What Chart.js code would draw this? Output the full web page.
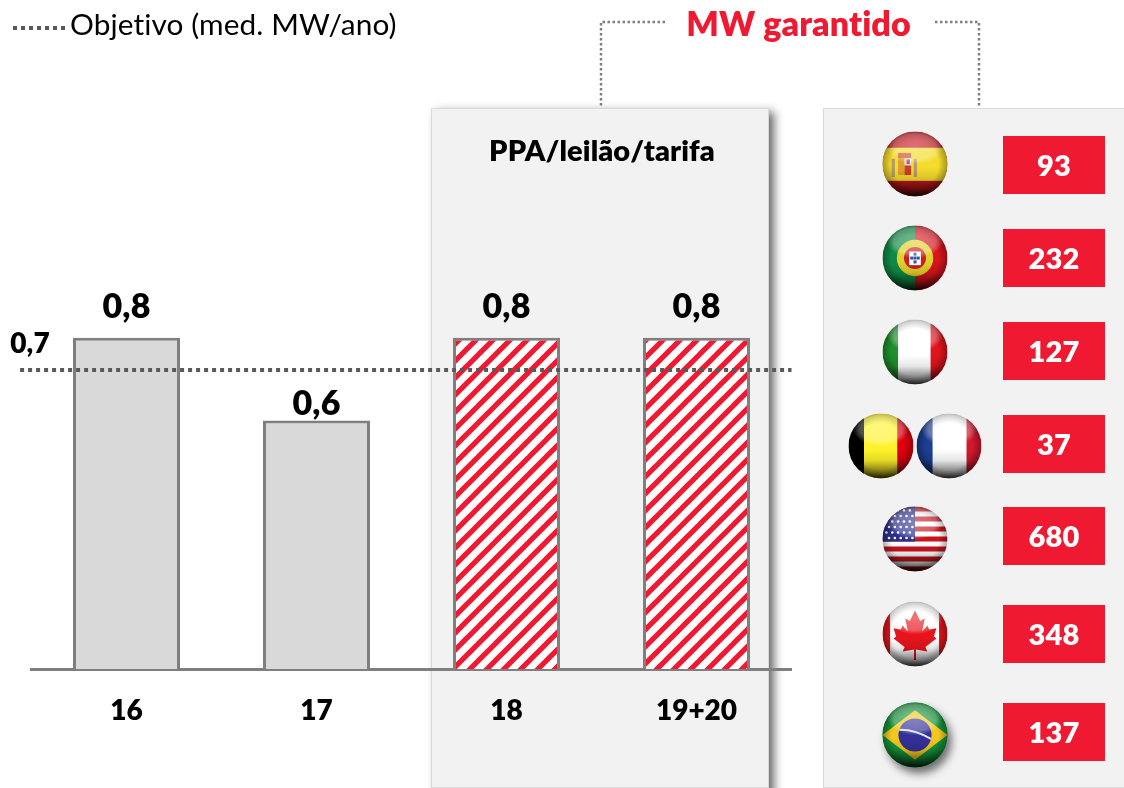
<!DOCTYPE html>
<html>
<head>
<meta charset="utf-8">
<script src="https://cdn.jsdelivr.net/npm/chart.js@4/dist/chart.umd.min.js"></script>
<style>
  html, body { margin: 0; padding: 0; background: #fff; overflow: hidden; }
  canvas { display: block; }
</style>
</head>
<body>
<canvas id="mwChart" width="1124" height="788"></canvas>
<script>
const categories = ['16', '17', '18', '19+20'];
const mwPerYear = [0.8, 0.6, 0.8, 0.8];
const targetValue = 0.722;
const targetLabel = '0,7';
// the dotted line runs past the first and last bar, in category index units
const targetSpan = [-0.56, 3.5];
const countries = ['es', 'pt', 'it', 'be+fr', 'us', 'ca', 'br'];
const guaranteedMW = [93, 232, 127, 37, 680, 348, 137];

const RED = '#ef1931';
const FONT = 'Lato, "Open Sans", sans-serif';
const HEAVY = '800';

// gap between bar top and its label, the 17 bar has it closer
const labelGaps = [31, 17, 31, 31];
// y centre of each row in the right hand panel
const rowCentres = [165, 258, 351, 444, 536, 634, 732];
const flagCentres = [164, 258, 352, 446, 539, 634, 735];

function hatch() {
    const size = 17;
    const tile = document.createElement('canvas');
    tile.width = tile.height = size;
    const c = tile.getContext('2d');
    c.fillStyle = '#fff';
    c.fillRect(0, 0, size, size);
    c.strokeStyle = RED;
    c.lineWidth = 5.2;
    [0, size, size * 2].forEach(s => {
        c.beginPath();
        c.moveTo(s + 2, -2);
        c.lineTo(s - size - 2, size + 2);
        c.stroke();
    });
    return c.createPattern(tile, 'repeat');
}

/* flags, d is the diameter */
function bars(c, d, cols, stops) {
    let from = 0;
    cols.forEach((col, i) => {
        c.fillStyle = col;
        c.fillRect(from * d, 0, (stops[i] - from) * d, d);
        from = stops[i];
    });
}

const flags = {
    es(c, d) {
        c.fillStyle = '#c4161c'; c.fillRect(0, 0, d, d);
        c.fillStyle = '#f4dc2c'; c.fillRect(0, d * 0.25, d, d * 0.51);
        c.fillStyle = '#c9552a'; c.fillRect(d * 0.24, d * 0.33, d * 0.2, d * 0.08);
        c.fillStyle = '#e0a030'; c.fillRect(d * 0.24, d * 0.41, d * 0.1, d * 0.26);
        c.fillStyle = '#c8402a'; c.fillRect(d * 0.34, d * 0.52, d * 0.1, d * 0.15);
        c.fillStyle = '#e8dcd8'; c.fillRect(d * 0.34, d * 0.41, d * 0.1, d * 0.11);
        c.fillStyle = '#a04aa0'; c.fillRect(d * 0.37, d * 0.43, d * 0.05, d * 0.07);
        c.fillStyle = '#b59a6a';
        c.fillRect(d * 0.14, d * 0.42, d * 0.05, d * 0.28);
        c.fillRect(d * 0.48, d * 0.42, d * 0.05, d * 0.28);
    },
    pt(c, d) {
        bars(c, d, ['#0f8a45', '#d8141c'], [0.5, 1]);
        const m = d / 2;
        c.fillStyle = '#e2d02a';
        c.beginPath(); c.arc(m, m, d * 0.28, 0, 7); c.fill();
        c.fillStyle = '#c8201f';
        c.beginPath(); c.arc(m, m, d * 0.17, 0, 7); c.fill();
        c.fillStyle = '#fff'; c.fillRect(m - d * 0.09, m - d * 0.1, d * 0.18, d * 0.21);
        c.fillStyle = '#2c4f9e';
        [[0, -0.06], [-0.05, 0], [0, 0], [0.05, 0], [0, 0.06]].forEach(p => {
            c.fillRect(m + p[0] * d - 1.5, m + p[1] * d - 1.5, 3, 3);
        });
    },
    it(c, d) { bars(c, d, ['#1f8f2c', '#fff', '#e0141c'], [0.24, 0.74, 1]); },
    be(c, d) { bars(c, d, ['#000', '#fff22a', '#e0000f'], [0.24, 0.75, 1]); },
    fr(c, d) { bars(c, d, ['#1c3f94', '#fff', '#d0182e'], [0.25, 0.77, 1]); },
    us(c, d) {
        c.fillStyle = '#fff'; c.fillRect(0, 0, d, d);
        c.fillStyle = '#c8141e';
        for (let i = 0; i < 13; i += 2) c.fillRect(0, i * d / 13, d, d / 13);
        c.fillStyle = '#2a2f8c'; c.fillRect(0, 0, d * 0.5, d * 0.54);
        c.fillStyle = '#fff';
        for (let r = 0; r < 6; r++) {
            for (let s = 0; s < 5; s++) {
                c.beginPath();
                c.arc(d * (0.06 + s * 0.09 + (r % 2) * 0.04), d * (0.06 + r * 0.085), 1.3, 0, 7);
                c.fill();
            }
        }
    },
    ca(c, d) {
        bars(c, d, ['#e0141c', '#fff', '#e0141c'], [0.12, 0.87, 1]);
        const leaf = [[0, -0.36], [0.08, -0.2], [0.15, -0.24], [0.11, -0.04], [0.19, -0.13], [0.22, -0.07],
            [0.33, -0.09], [0.29, 0.04], [0.33, 0.07], [0.16, 0.2], [0.19, 0.27], [0.015, 0.24], [0.015, 0.4],
            [-0.015, 0.4], [-0.015, 0.24], [-0.19, 0.27], [-0.16, 0.2], [-0.33, 0.07], [-0.29, 0.04],
            [-0.33, -0.09], [-0.22, -0.07], [-0.19, -0.13], [-0.11, -0.04], [-0.15, -0.24], [-0.08, -0.2]];
        c.fillStyle = '#e8141c';
        c.beginPath();
        leaf.forEach(p => c.lineTo(d / 2 + p[0] * d, d / 2 + p[1] * d));
        c.closePath();
        c.fill();
    },
    br(c, d) {
        c.fillStyle = '#14933a'; c.fillRect(0, 0, d, d);
        c.fillStyle = '#f2c81e';
        c.beginPath();
        c.moveTo(0, d / 2); c.lineTo(d / 2, d * 0.12); c.lineTo(d, d / 2); c.lineTo(d / 2, d * 0.88);
        c.closePath(); c.fill();
        c.fillStyle = '#34309a';
        c.beginPath(); c.arc(d / 2, d / 2, d * 0.255, 0, 7); c.fill();
        c.save();
        c.beginPath(); c.arc(d / 2, d / 2, d * 0.255, 0, 7); c.clip();
        c.strokeStyle = '#dfe3f0'; c.lineWidth = 2;
        c.beginPath(); c.moveTo(d * 0.22, d * 0.42); c.quadraticCurveTo(d * 0.5, d * 0.4, d * 0.78, d * 0.58); c.stroke();
        c.restore();
    }
};

function ball(c, name, cx, cy, r) {
    c.save();
    if (name === 'br') {
        c.save();
        c.shadowColor = 'rgba(0,0,0,0.55)';
        c.shadowBlur = 9;
        c.shadowOffsetX = 4;
        c.shadowOffsetY = 6;
        c.fillStyle = '#14933a';
        c.beginPath(); c.arc(cx, cy, r, 0, 7); c.fill();
        c.restore();
    }
    c.beginPath();
    c.arc(cx, cy, r, 0, 7);
    c.clip();
    c.translate(cx - r, cy - r);
    const d = r * 2;
    flags[name](c, d);

    // glass look: dark bottom, soft rim, light cap on top
    let g = c.createLinearGradient(0, 0, 0, d);
    g.addColorStop(0.55, 'rgba(0,0,0,0)');
    g.addColorStop(0.72, 'rgba(0,0,0,0.1)');
    g.addColorStop(0.9, 'rgba(0,0,0,0.5)');
    g.addColorStop(1, 'rgba(0,0,0,0.85)');
    c.fillStyle = g;
    c.fillRect(0, 0, d, d);
    g = c.createRadialGradient(r, r, r * 0.72, r, r, r);
    g.addColorStop(0, 'rgba(0,0,0,0)');
    g.addColorStop(1, 'rgba(0,0,0,0.32)');
    c.fillStyle = g;
    c.fillRect(0, 0, d, d);
    c.save();
    c.translate(r, d * 0.24);
    c.scale(1, 0.62);
    g = c.createRadialGradient(0, 0, 0, 0, 0, r * 0.86);
    g.addColorStop(0, 'rgba(255,255,255,0.4)');
    g.addColorStop(0.75, 'rgba(255,255,255,0.3)');
    g.addColorStop(1, 'rgba(255,255,255,0)');
    c.fillStyle = g;
    c.beginPath();
    c.arc(0, 0, r * 0.86, 0, 7);
    c.fill();
    c.restore();
    c.restore();
}

function text(c, str, x, y, font, color, align) {
    c.font = font;
    c.fillStyle = color;
    c.textAlign = align || 'center';
    c.textBaseline = 'middle';
    c.letterSpacing = '0.1px'; // keeps Lato from joining "ti"
    c.fillText(str, x, y);
    c.letterSpacing = '0px';
}

function dotted(c, pts, width, dash, color) {
    c.save();
    c.strokeStyle = color;
    c.lineWidth = width;
    c.setLineDash(dash);
    c.beginPath();
    pts.forEach(p => c.lineTo(p[0], p[1]));
    c.stroke();
    c.restore();
}

const backdrop = {
    id: 'backdrop',
    beforeDraw(chart) {
        const c = chart.ctx;
        // panels
        c.save();
        c.shadowColor = 'rgba(0,0,0,0.6)';
        c.shadowBlur = 9;
        c.shadowOffsetX = 5;
        c.shadowOffsetY = 3;
        c.fillStyle = '#f2f2f2';
        c.fillRect(432, 109, 337, 700);
        c.restore();
        c.fillStyle = '#f2f2f2';
        c.fillRect(432, 109, 337, 678);
        c.fillRect(824, 109, 310, 678);
        c.strokeStyle = '#d9d9d9';
        c.lineWidth = 1;
        c.strokeRect(431.5, 108.5, 337, 679);
        c.strokeRect(823.5, 108.5, 320, 679);

        // connectors to the title
        dotted(c, [[665, 22], [601, 22], [601, 108]], 2.5, [2.5, 2.5], '#7f7f7f');
        dotted(c, [[935, 22], [979, 22], [979, 108]], 2.5, [2.5, 2.5], '#7f7f7f');
    },
    afterDraw(chart) {
        const c = chart.ctx;
        // legend
        dotted(c, [[13, 28], [65, 28]], 4, [4, 4], '#595959');
        text(c, 'Objetivo (med. MW/ano)', 70, 25, '29.8px ' + FONT, '#000', 'left');

        text(c, 'MW garantido', 798.5, 25, HEAVY + ' 34px ' + FONT, RED);
        text(c, 'PPA/leilão/tarifa', 602, 152, HEAVY + ' 29px ' + FONT, '#000');

        // value labels on top of the bars
        const barMeta = chart.getDatasetMeta(0);
        barMeta.data.forEach((bar, i) => {
            const label = mwPerYear[i].toFixed(1).replace('.', ',');
            text(c, label, bar.x, bar.y - labelGaps[i], HEAVY + ' 34px ' + FONT, '#000');
        });
        text(c, targetLabel, 30, 344, HEAVY + ' 28px ' + FONT, '#000');

        // guaranteed MW per country
        countries.forEach((code, i) => {
            c.fillStyle = RED;
            c.fillRect(1003, rowCentres[i] - 29, 102, 58);
            text(c, String(guaranteedMW[i]), 1054, rowCentres[i] + 2, HEAVY + ' 29px ' + FONT, '#fff');
            const names = code.split('+');
            if (names.length === 2) {
                ball(c, names[0], 881, flagCentres[i], 32.5);
                ball(c, names[1], 949, flagCentres[i], 32.5);
            } else {
                ball(c, code, 915, flagCentres[i], 32.5);
            }
        });
    }
};

const ctx = document.getElementById('mwChart').getContext('2d');
const stripes = hatch();

new Chart(ctx, {
    data: {
        labels: categories,
        datasets: [{
            type: 'bar',
            data: mwPerYear,
            backgroundColor: ['#d9d9d9', '#d9d9d9', stripes, stripes],
            borderColor: '#7f7f7f',
            borderWidth: 3,
            barPercentage: 107 / 190,
            categoryPercentage: 1,
            order: 2
        }, {
            type: 'line',
            parsing: false,
            data: targetSpan.map(x => ({ x: x, y: targetValue })),
            borderColor: '#595959',
            borderWidth: 4,
            borderDash: [4, 4],
            pointRadius: 0,
            clip: false,
            order: 1
        }]
    },
    options: {
        responsive: false,
        animation: false,
        layout: { padding: { left: 31.5, right: 332.5, top: 255, bottom: 0 } },
        plugins: {
            legend: { display: false },
            tooltip: { enabled: false }
        },
        scales: {
            x: {
                offset: true,
                grid: { display: false },
                border: { color: '#7f7f7f', width: 3 },
                ticks: {
                    color: '#000',
                    padding: 17,
                    maxRotation: 0,
                    font: { family: FONT, size: 28, weight: HEAVY }
                },
                afterFit: scale => { scale.height = 119; }
            },
            y: { display: false, min: 0, max: 1 }
        }
    },
    plugins: [backdrop]
});
</script>
</body>
</html>
